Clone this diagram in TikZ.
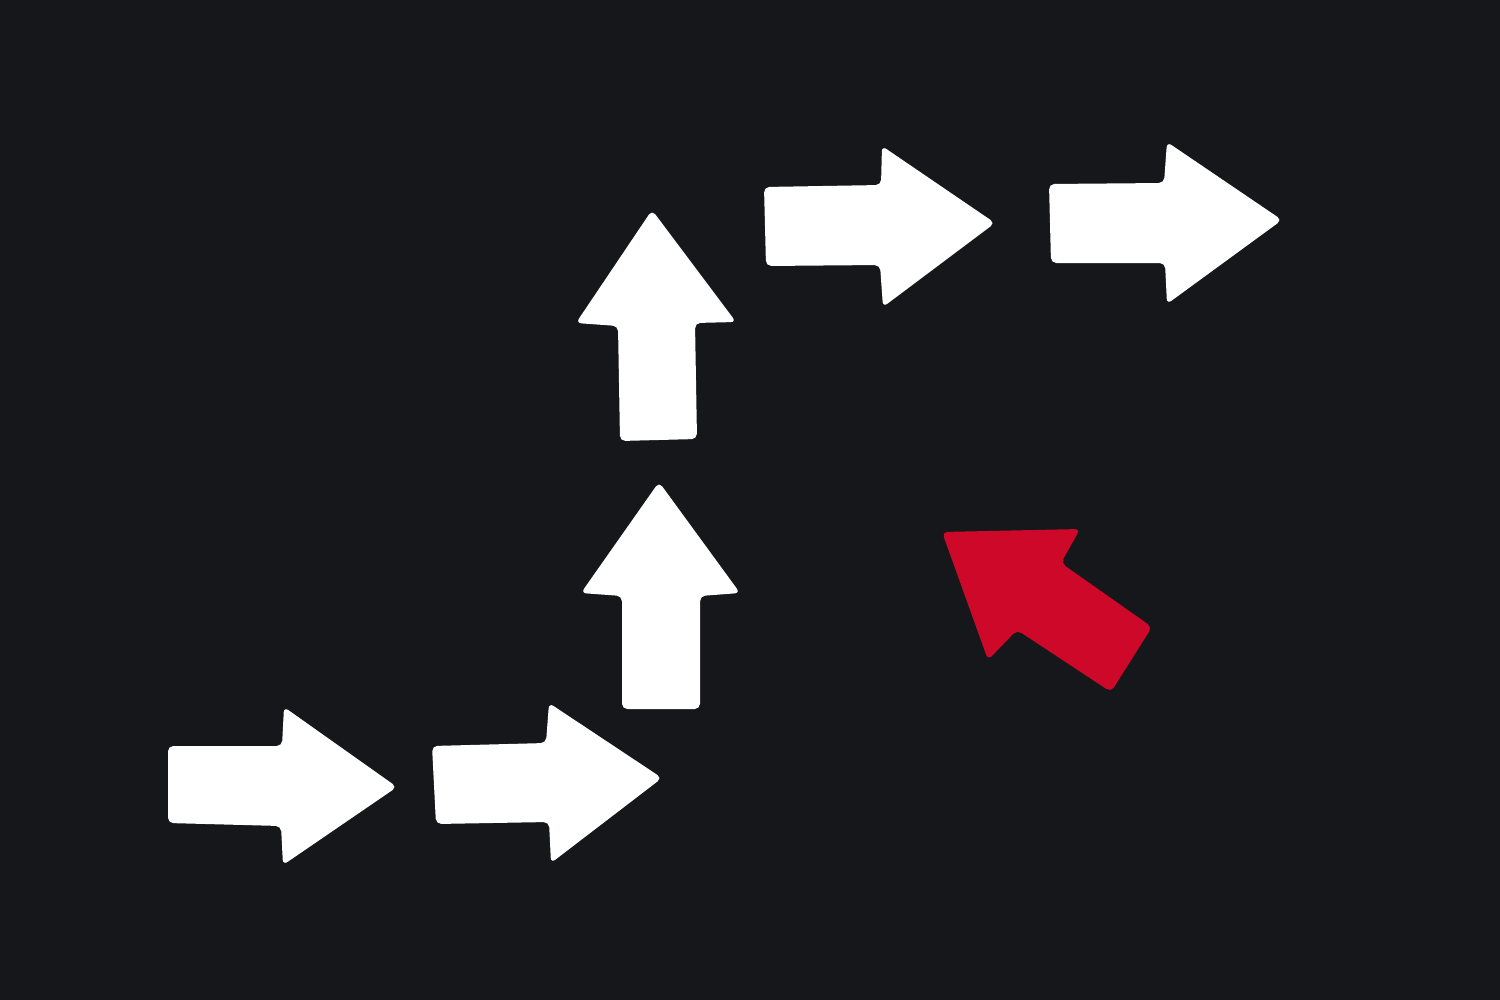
\documentclass[tikz,border=0pt]{standalone}
\usepackage{tikz}
\definecolor{boardblack}{RGB}{22,23,27}
\definecolor{cutred}{RGB}{206,8,40}

\begin{document}
\begin{tikzpicture}[x=0.01cm,y=-0.01cm]
        \tikzset{board/.style={fill=boardblack},
          cutout/.style={fill=white,rounded corners=1.5pt},
          oddone/.style={cutout,fill=cutred}}
        \fill[board] (0,0) rectangle (1500,1000);
        % path of white arrows
        \fill[cutout] (168,746) -- (282,746) -- (284,707) -- (397,787)
          -- (283,865) -- (281,826) -- (168,823) -- cycle;
        \fill[cutout] (432,746) -- (546,743) -- (549,703) -- (662,778)
          -- (551,863) -- (549,822) -- (436,824) -- cycle;
        \fill[cutout] (622,709) -- (622,596) -- (581,593) -- (659,482)
          -- (740,593) -- (700,596) -- (700,709) -- cycle;
        \fill[cutout] (620,441) -- (618,326) -- (576,323) -- (652,210)
          -- (736,322) -- (695,323) -- (697,439) -- cycle;
        \fill[cutout] (764,187) -- (881,185) -- (882,146) -- (995,223)
          -- (883,307) -- (880,265) -- (766,266) -- cycle;
        \fill[cutout] (1049,184) -- (1164,183) -- (1167,142) -- (1282,220)
          -- (1167,304) -- (1165,263) -- (1051,263) -- cycle;
        % the red one
        \fill[oddone] (942,532) -- (1080,529) -- (1061,563) -- (1152,627)
          -- (1111,692) -- (1017,630) -- (988,660) -- cycle;
\end{tikzpicture}
\end{document}
